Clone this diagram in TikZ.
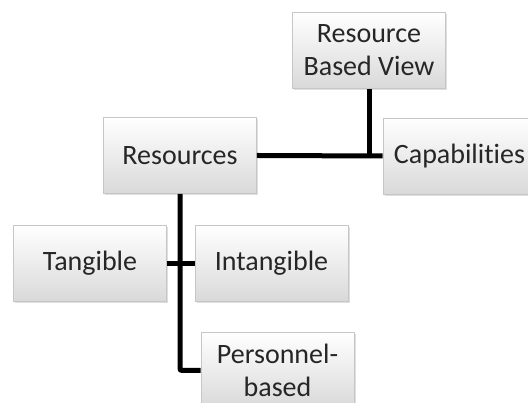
\documentclass[tikz,border=0pt]{standalone}
\usepackage{fontspec}
\setmainfont[RawFeature=-liga]{Carlito}
\usetikzlibrary{shadows}

\begin{document}
\begin{tikzpicture}[x=1pt,y=1pt,
    box/.style={draw=gray!45,line width=0.6pt,top color=white,bottom color=gray!30,
      minimum width=153pt,minimum height=76pt,inner sep=2pt,align=center,
      text=black!85,font=\fontsize{28}{33}\selectfont,
      drop shadow={opacity=0.25,shadow xshift=1.5pt,shadow yshift=-2pt}},
    link/.style={line width=5pt,black}]
  \useasboundingbox (0,0) rectangle (528,403);
  \node[box] (rbv) at (369,352.5) {Resource\\Based View};
  \node[box] (res) at (180,247.5) {Resources};
  \node[box] (cap) at (459.5,247) {Capabilities};
  \node[box] (tan) at (90,139.5) {Tangible};
  \node[box] (intan) at (271.5,139.5) {Intangible};
  \node[box] (pers) at (277.5,32.5) {Personnel-\\based};
  \draw[link] (res.east) -- (cap.west);
  \draw[link] (rbv.south) -- (rbv.south |- res.east);
  \draw[link] (tan.east) -- (intan.west);
  \draw[link,rounded corners=2pt] (res.south) |- (pers.west);
\end{tikzpicture}
\end{document}
